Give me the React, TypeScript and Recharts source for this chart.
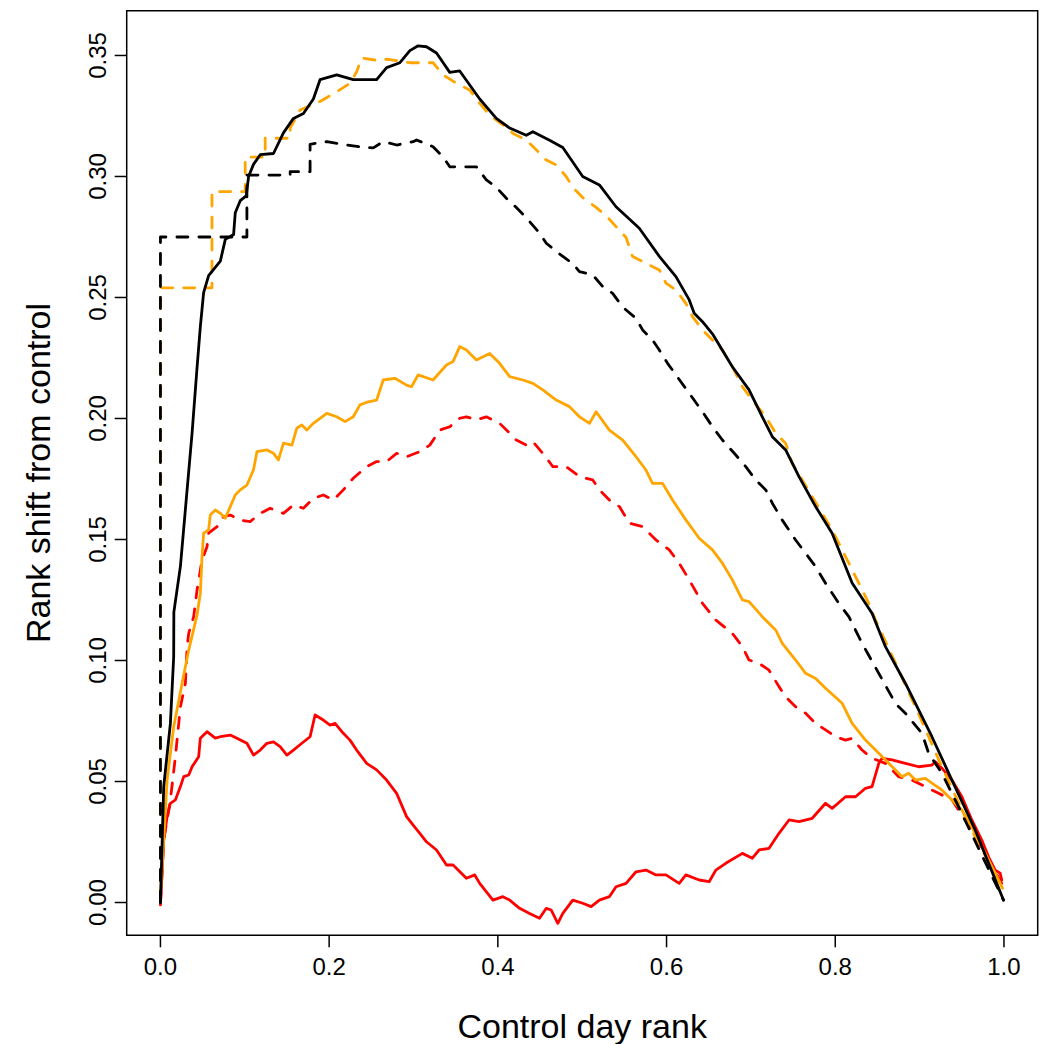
import { LineChart, Line, XAxis, YAxis, ReferenceArea, Label } from 'recharts'

// [control day rank, rank shift] pairs
const blackSolid: [number, number][] = [
  [0, 0], [0.0039, 0.048], [0.0118, 0.074], [0.0157, 0.1015], [0.0159, 0.12], [0.0237, 0.139],
  [0.0375, 0.194], [0.0434, 0.221], [0.0473, 0.238], [0.0512, 0.252], [0.0571, 0.259], [0.071, 0.265],
  [0.0769, 0.274], [0.0867, 0.276], [0.0887, 0.285], [0.0946, 0.29], [0.1017, 0.292], [0.1045, 0.3],
  [0.1103, 0.305], [0.1183, 0.309], [0.134, 0.3095], [0.1458, 0.318], [0.1577, 0.324], [0.1695, 0.326],
  [0.1813, 0.332], [0.1892, 0.34], [0.209, 0.342], [0.2286, 0.34], [0.2563, 0.34], [0.2681, 0.345],
  [0.2839, 0.347], [0.2957, 0.352], [0.3055, 0.354], [0.3154, 0.3536], [0.3273, 0.351], [0.343, 0.343],
  [0.3548, 0.3436], [0.3785, 0.332], [0.3982, 0.324], [0.414, 0.32], [0.4337, 0.317], [0.4415, 0.3185],
  [0.4613, 0.315], [0.477, 0.312], [0.5006, 0.3], [0.5204, 0.2965], [0.5401, 0.2875], [0.5677, 0.2786],
  [0.5914, 0.267], [0.6111, 0.2586], [0.6269, 0.249], [0.6328, 0.2435], [0.6426, 0.24], [0.6544, 0.235],
  [0.678, 0.2214], [0.6978, 0.2118], [0.7135, 0.2007], [0.7254, 0.1925], [0.7412, 0.187], [0.757, 0.176],
  [0.7767, 0.1636], [0.7963, 0.1526], [0.82, 0.132], [0.8436, 0.1195], [0.8595, 0.1057], [0.8831, 0.0906],
  [0.9146, 0.0685], [0.9383, 0.0506], [0.9659, 0.03], [0.9994, 0.001],
]

const blackDashed: [number, number][] = [
  [0, 0], [0, 0.275], [0.1025, 0.275], [0.1025, 0.3006], [0.1538, 0.3006], [0.1538, 0.302],
  [0.1774, 0.302], [0.1774, 0.3133], [0.1972, 0.3144], [0.2208, 0.313], [0.2365, 0.3123], [0.2523, 0.3118],
  [0.2641, 0.3144], [0.28, 0.313], [0.2996, 0.3144], [0.3036, 0.3151], [0.3232, 0.3123], [0.3351, 0.308],
  [0.343, 0.304], [0.3746, 0.304], [0.3864, 0.2986], [0.3982, 0.2955], [0.4101, 0.291], [0.4219, 0.2872],
  [0.4337, 0.283], [0.4494, 0.2766], [0.4574, 0.2724], [0.4731, 0.268], [0.4888, 0.264], [0.4967, 0.2607],
  [0.5125, 0.2593], [0.5243, 0.2545], [0.5361, 0.2517], [0.548, 0.246], [0.5638, 0.2414], [0.5716, 0.2366],
  [0.5834, 0.2324], [0.5914, 0.2283], [0.6012, 0.2228], [0.6426, 0.2028], [0.6544, 0.1966], [0.6662, 0.1911],
  [0.6821, 0.1849], [0.6939, 0.1801], [0.7057, 0.1746], [0.7176, 0.1705], [0.7254, 0.165], [0.7372, 0.158],
  [0.753, 0.1498], [0.7649, 0.1443], [0.7767, 0.1388], [0.7885, 0.1319], [0.8043, 0.1236], [0.8161, 0.1181],
  [0.8318, 0.1071], [0.8516, 0.0947], [0.8713, 0.0823], [0.8831, 0.0782], [0.9028, 0.0699], [0.9107, 0.0617],
  [0.9264, 0.0534], [0.9462, 0.0396], [0.9994, 0.001],
]

const orangeDashed: [number, number][] = [
  [0, 0], [0, 0.254], [0.0611, 0.254], [0.0611, 0.2937], [0.1005, 0.2937], [0.1005, 0.308],
  [0.1242, 0.308], [0.1242, 0.3158], [0.1538, 0.3158], [0.1538, 0.32], [0.1656, 0.3275], [0.1892, 0.331],
  [0.209, 0.335], [0.2247, 0.3385], [0.2326, 0.3433], [0.2386, 0.349], [0.2602, 0.3478], [0.2681, 0.3485],
  [0.2957, 0.347], [0.3075, 0.347], [0.3232, 0.347], [0.3351, 0.342], [0.3509, 0.3385], [0.3667, 0.3357],
  [0.3785, 0.3302], [0.3903, 0.3254], [0.406, 0.3213], [0.4179, 0.3178], [0.4337, 0.315], [0.4455, 0.311],
  [0.4574, 0.3068], [0.4692, 0.3048], [0.481, 0.3], [0.4888, 0.2955], [0.5006, 0.2913], [0.5165, 0.2872],
  [0.5283, 0.2838], [0.5401, 0.2793], [0.552, 0.2748], [0.5598, 0.2669], [0.5756, 0.2641], [0.5914, 0.2614],
  [0.5993, 0.2559], [0.6111, 0.2531], [0.6229, 0.2476], [0.6308, 0.2421], [0.6426, 0.2366], [0.6544, 0.2324],
  [0.6662, 0.2283], [0.678, 0.2214], [0.6899, 0.2131], [0.7017, 0.2076], [0.7176, 0.2007], [0.7294, 0.1939],
  [0.7412, 0.1897], [0.749, 0.1815], [0.7727, 0.1677], [0.7845, 0.1608], [0.7963, 0.1539], [0.8043, 0.1484],
  [0.8161, 0.1402], [0.828, 0.1319], [0.8397, 0.1236], [0.8477, 0.1167], [0.87, 0.1], [0.9, 0.077],
  [0.9264, 0.0561], [0.96, 0.031], [1.0, 0.005],
]

const orangeSolid: [number, number][] = [
  [0, 0.0024], [0.0079, 0.0506], [0.0157, 0.0726], [0.0257, 0.0906], [0.0335, 0.1043], [0.0434, 0.1188],
  [0.0473, 0.1278], [0.0493, 0.1429], [0.0512, 0.1526], [0.0571, 0.154], [0.0591, 0.1601], [0.065, 0.1622],
  [0.071, 0.1608], [0.0769, 0.1588], [0.0828, 0.1636], [0.0887, 0.1684], [0.0946, 0.1705], [0.1025, 0.1725],
  [0.1103, 0.1787], [0.1144, 0.1863], [0.1262, 0.187], [0.134, 0.1856], [0.1399, 0.1829], [0.1458, 0.1898],
  [0.1558, 0.189], [0.1617, 0.196], [0.1676, 0.1973], [0.1735, 0.1952], [0.1813, 0.198], [0.1972, 0.2021],
  [0.209, 0.2007], [0.2188, 0.1987], [0.2286, 0.2007], [0.2365, 0.2056], [0.2464, 0.2069], [0.2563, 0.2076],
  [0.2641, 0.2159], [0.2779, 0.2166], [0.2918, 0.2138], [0.2977, 0.2131], [0.3055, 0.218], [0.3232, 0.2159],
  [0.3391, 0.2221], [0.3469, 0.2235], [0.3548, 0.2297], [0.3627, 0.2283], [0.3746, 0.2242], [0.3903, 0.2269],
  [0.4021, 0.2228], [0.414, 0.2173], [0.4297, 0.2159], [0.4415, 0.2145], [0.4533, 0.2118], [0.4692, 0.2076],
  [0.4849, 0.2049], [0.4967, 0.2007], [0.5086, 0.198], [0.5165, 0.2028], [0.5322, 0.1952], [0.548, 0.1911],
  [0.5638, 0.1842], [0.5756, 0.1787], [0.5834, 0.1732], [0.5953, 0.1732], [0.6071, 0.1663], [0.6229, 0.1581],
  [0.6387, 0.1505], [0.6544, 0.1457], [0.6662, 0.1402], [0.678, 0.1333], [0.6899, 0.125], [0.6978, 0.1243],
  [0.7135, 0.1181], [0.7294, 0.1126], [0.7372, 0.1071], [0.753, 0.1002], [0.7649, 0.0947], [0.7767, 0.0926],
  [0.7885, 0.0885], [0.8082, 0.0823], [0.82, 0.074], [0.8358, 0.0671], [0.8516, 0.0617], [0.8634, 0.0575],
  [0.8791, 0.052], [0.887, 0.0534], [0.895, 0.0506], [0.9068, 0.0513], [0.9146, 0.0493], [0.9264, 0.0465],
  [0.9383, 0.0424], [0.9501, 0.0382], [0.9619, 0.0313], [0.9778, 0.0203], [0.9896, 0.0121], [0.9982, 0.0059],
]

const redDashed: [number, number][] = [
  [0, -0.0003], [0.0039, 0.0258], [0.0118, 0.0424], [0.0177, 0.0602], [0.0237, 0.0809], [0.0296, 0.0906],
  [0.0316, 0.1057], [0.0335, 0.1112], [0.0394, 0.1181], [0.0434, 0.1291], [0.0493, 0.1415], [0.0552, 0.147],
  [0.0571, 0.1526], [0.0671, 0.1553], [0.0749, 0.1594], [0.0828, 0.1601], [0.0946, 0.158], [0.1064, 0.1574],
  [0.1183, 0.1608], [0.1301, 0.1629], [0.1458, 0.1608], [0.1577, 0.1643], [0.1695, 0.1629], [0.1813, 0.167],
  [0.1931, 0.1684], [0.205, 0.1663], [0.2168, 0.1705], [0.2286, 0.1753], [0.2445, 0.1801], [0.2563, 0.1822],
  [0.2681, 0.1822], [0.28, 0.1856], [0.2918, 0.1842], [0.3075, 0.1863], [0.3193, 0.189], [0.3312, 0.1952],
  [0.343, 0.1966], [0.3548, 0.2001], [0.3627, 0.2007], [0.3746, 0.1994], [0.3864, 0.2007], [0.4021, 0.198],
  [0.414, 0.1939], [0.4219, 0.1911], [0.4337, 0.189], [0.4415, 0.1904], [0.4533, 0.1856], [0.4652, 0.1801],
  [0.481, 0.1801], [0.4967, 0.176], [0.5125, 0.1746], [0.5204, 0.1705], [0.5322, 0.1663], [0.5441, 0.1636],
  [0.5559, 0.1567], [0.5716, 0.1553], [0.5875, 0.1498], [0.6032, 0.1457], [0.615, 0.1402], [0.6269, 0.1333],
  [0.6426, 0.1236], [0.6584, 0.1167], [0.678, 0.1112], [0.6899, 0.1057], [0.6978, 0.1002], [0.7097, 0.0988],
  [0.7215, 0.096], [0.7333, 0.0892], [0.7412, 0.085], [0.753, 0.0809], [0.7649, 0.0782], [0.7767, 0.074],
  [0.7885, 0.0713], [0.8003, 0.0685], [0.8122, 0.0671], [0.82, 0.0678], [0.8318, 0.063], [0.8436, 0.0596],
  [0.8595, 0.0575], [0.8752, 0.052], [0.891, 0.0506], [0.9068, 0.0479], [0.9225, 0.0451], [0.9383, 0.0424],
  [0.96, 0.031], [0.9974, 0.0079],
]

const redSolid: [number, number][] = [
  [0, -0.001], [0.0039, 0.0258], [0.0079, 0.0355], [0.0118, 0.041], [0.0177, 0.0424], [0.0237, 0.0479],
  [0.0276, 0.052], [0.0335, 0.0527], [0.0375, 0.0561], [0.0453, 0.0602], [0.0473, 0.0679], [0.0552, 0.0706],
  [0.065, 0.0679], [0.071, 0.0685], [0.0828, 0.0692], [0.0907, 0.0679], [0.1025, 0.0658], [0.1103, 0.0609],
  [0.1183, 0.063], [0.1262, 0.0658], [0.134, 0.0664], [0.1419, 0.0644], [0.1499, 0.0609], [0.1577, 0.063],
  [0.1676, 0.0658], [0.1774, 0.0685], [0.1833, 0.0775], [0.1931, 0.0754], [0.2011, 0.0733], [0.207, 0.074],
  [0.2168, 0.0699], [0.2247, 0.0671], [0.2326, 0.063], [0.2445, 0.0575], [0.2563, 0.0548], [0.2681, 0.0506],
  [0.28, 0.0451], [0.2918, 0.0355], [0.2996, 0.032], [0.3075, 0.0286], [0.3154, 0.0251], [0.3273, 0.0217],
  [0.3391, 0.0155], [0.3469, 0.0155], [0.3627, 0.01], [0.3726, 0.0114], [0.3785, 0.0079], [0.3942, 0.001],
  [0.406, 0.0024], [0.414, 0.001], [0.4258, -0.0024], [0.4376, -0.0045], [0.4494, -0.0065], [0.4574, -0.0024],
  [0.4633, -0.0031], [0.4711, -0.0086], [0.477, -0.0045], [0.4888, 0.001], [0.5006, -0.0003], [0.5106, -0.0017],
  [0.5204, 0.001], [0.5322, 0.0024], [0.5401, 0.0065], [0.552, 0.0079], [0.5638, 0.0127], [0.5756, 0.0134],
  [0.5875, 0.0114], [0.5993, 0.0114], [0.615, 0.0079], [0.6229, 0.0114], [0.6387, 0.0093], [0.6505, 0.0086],
  [0.6584, 0.0134], [0.6702, 0.0162], [0.6899, 0.0203], [0.7017, 0.0183], [0.7097, 0.0217], [0.7215, 0.0224],
  [0.7333, 0.0286], [0.7452, 0.0341], [0.757, 0.0334], [0.7727, 0.0348], [0.7885, 0.041], [0.7963, 0.0389],
  [0.8122, 0.0437], [0.824, 0.0437], [0.8358, 0.0472], [0.8436, 0.0479], [0.8516, 0.0575], [0.8555, 0.0596],
  [0.8673, 0.0589], [0.8831, 0.0575], [0.8989, 0.0561], [0.9146, 0.0568], [0.9186, 0.0582], [0.9264, 0.0555],
  [0.9383, 0.0506], [0.9501, 0.0437], [0.9619, 0.0341], [0.9737, 0.0258], [0.9817, 0.0189], [0.9896, 0.0134],
  [0.9955, 0.0121], [0.9974, 0.0093],
]

const xTicks = [0, 0.2, 0.4, 0.6, 0.8, 1.0]
const yTicks = [0, 0.05, 0.1, 0.15, 0.2, 0.25, 0.3, 0.35]

const X_DOMAIN: [number, number] = [-0.04, 1.04]
const Y_DOMAIN: [number, number] = [-0.01355, 0.3685]

const FONT = '"Liberation Sans", Arial, sans-serif'

const toPoints = (arr: [number, number][]) => arr.map(([x, y]) => ({ x, y }))

// drawn bottom to top
const series = [
  { name: 'redDashed', data: redDashed, color: '#ff0000', dashed: true },
  { name: 'redSolid', data: redSolid, color: '#ff0000', dashed: false },
  { name: 'orangeSolid', data: orangeSolid, color: '#ffa500', dashed: false },
  { name: 'orangeDashed', data: orangeDashed, color: '#ffa500', dashed: true },
  { name: 'blackDashed', data: blackDashed, color: '#000000', dashed: true },
  { name: 'blackSolid', data: blackSolid, color: '#000000', dashed: false },
]

function XTick(props: any) {
  const { x, y, payload } = props
  return (
    <text x={x} y={y + 26} textAnchor="middle" fontSize={24} fontFamily={FONT} fill="#000">
      {Number(payload.value).toFixed(1)}
    </text>
  )
}

function YTick(props: any) {
  const { x, y, payload } = props
  const bx = x - 7
  return (
    <text
      x={bx}
      y={y}
      textAnchor="middle"
      fontSize={24}
      fontFamily={FONT}
      fill="#000"
      transform={`rotate(-90, ${bx}, ${y})`}
    >
      {Number(payload.value).toFixed(2)}
    </text>
  )
}

export default function App() {
  return (
    <div style={{ position: 'absolute', left: 0, top: 0, width: 1045, height: 1044, background: '#fff' }}>
      <LineChart width={1045} height={1044} margin={{ top: 10.7, right: 7.3, left: 0, bottom: 0 }}>
        <XAxis
          dataKey="x"
          type="number"
          domain={X_DOMAIN}
          allowDataOverflow
          ticks={xTicks}
          height={108.7}
          axisLine={false}
          tickLine={{ stroke: '#000', strokeWidth: 1.5 }}
          tickSize={12}
          tick={<XTick />}
          interval={0}
        >
          <Label
            content={() => (
              <text x={582.2} y={1038} textAnchor="middle" fontSize={34} fontFamily={FONT} fill="#000">
                Control day rank
              </text>
            )}
          />
        </XAxis>
        <YAxis
          dataKey="y"
          type="number"
          domain={Y_DOMAIN}
          allowDataOverflow
          ticks={yTicks}
          width={126.7}
          axisLine={false}
          tickLine={{ stroke: '#000', strokeWidth: 1.5 }}
          tickSize={12}
          tick={<YTick />}
          interval={0}
        >
          <Label
            content={() => (
              <text
                x={49.5}
                y={473}
                textAnchor="middle"
                fontSize={34}
                fontFamily={FONT}
                fill="#000"
                transform="rotate(-90, 49.5, 473)"
              >
                Rank shift from control
              </text>
            )}
          />
        </YAxis>
        {series.map((s) => (
          <Line
            key={s.name}
            data={toPoints(s.data)}
            dataKey="y"
            type="linear"
            stroke={s.color}
            strokeWidth={2.8}
            strokeDasharray={s.dashed ? '11 11' : undefined}
            strokeLinecap="round"
            strokeLinejoin="round"
            dot={false}
            activeDot={false}
            isAnimationActive={false}
          />
        ))}
        <ReferenceArea
          x1={X_DOMAIN[0]}
          x2={X_DOMAIN[1]}
          y1={Y_DOMAIN[0]}
          y2={Y_DOMAIN[1]}
          fill="none"
          stroke="#000"
          strokeWidth={1.5}
          ifOverflow="visible"
        />
      </LineChart>
    </div>
  )
}
